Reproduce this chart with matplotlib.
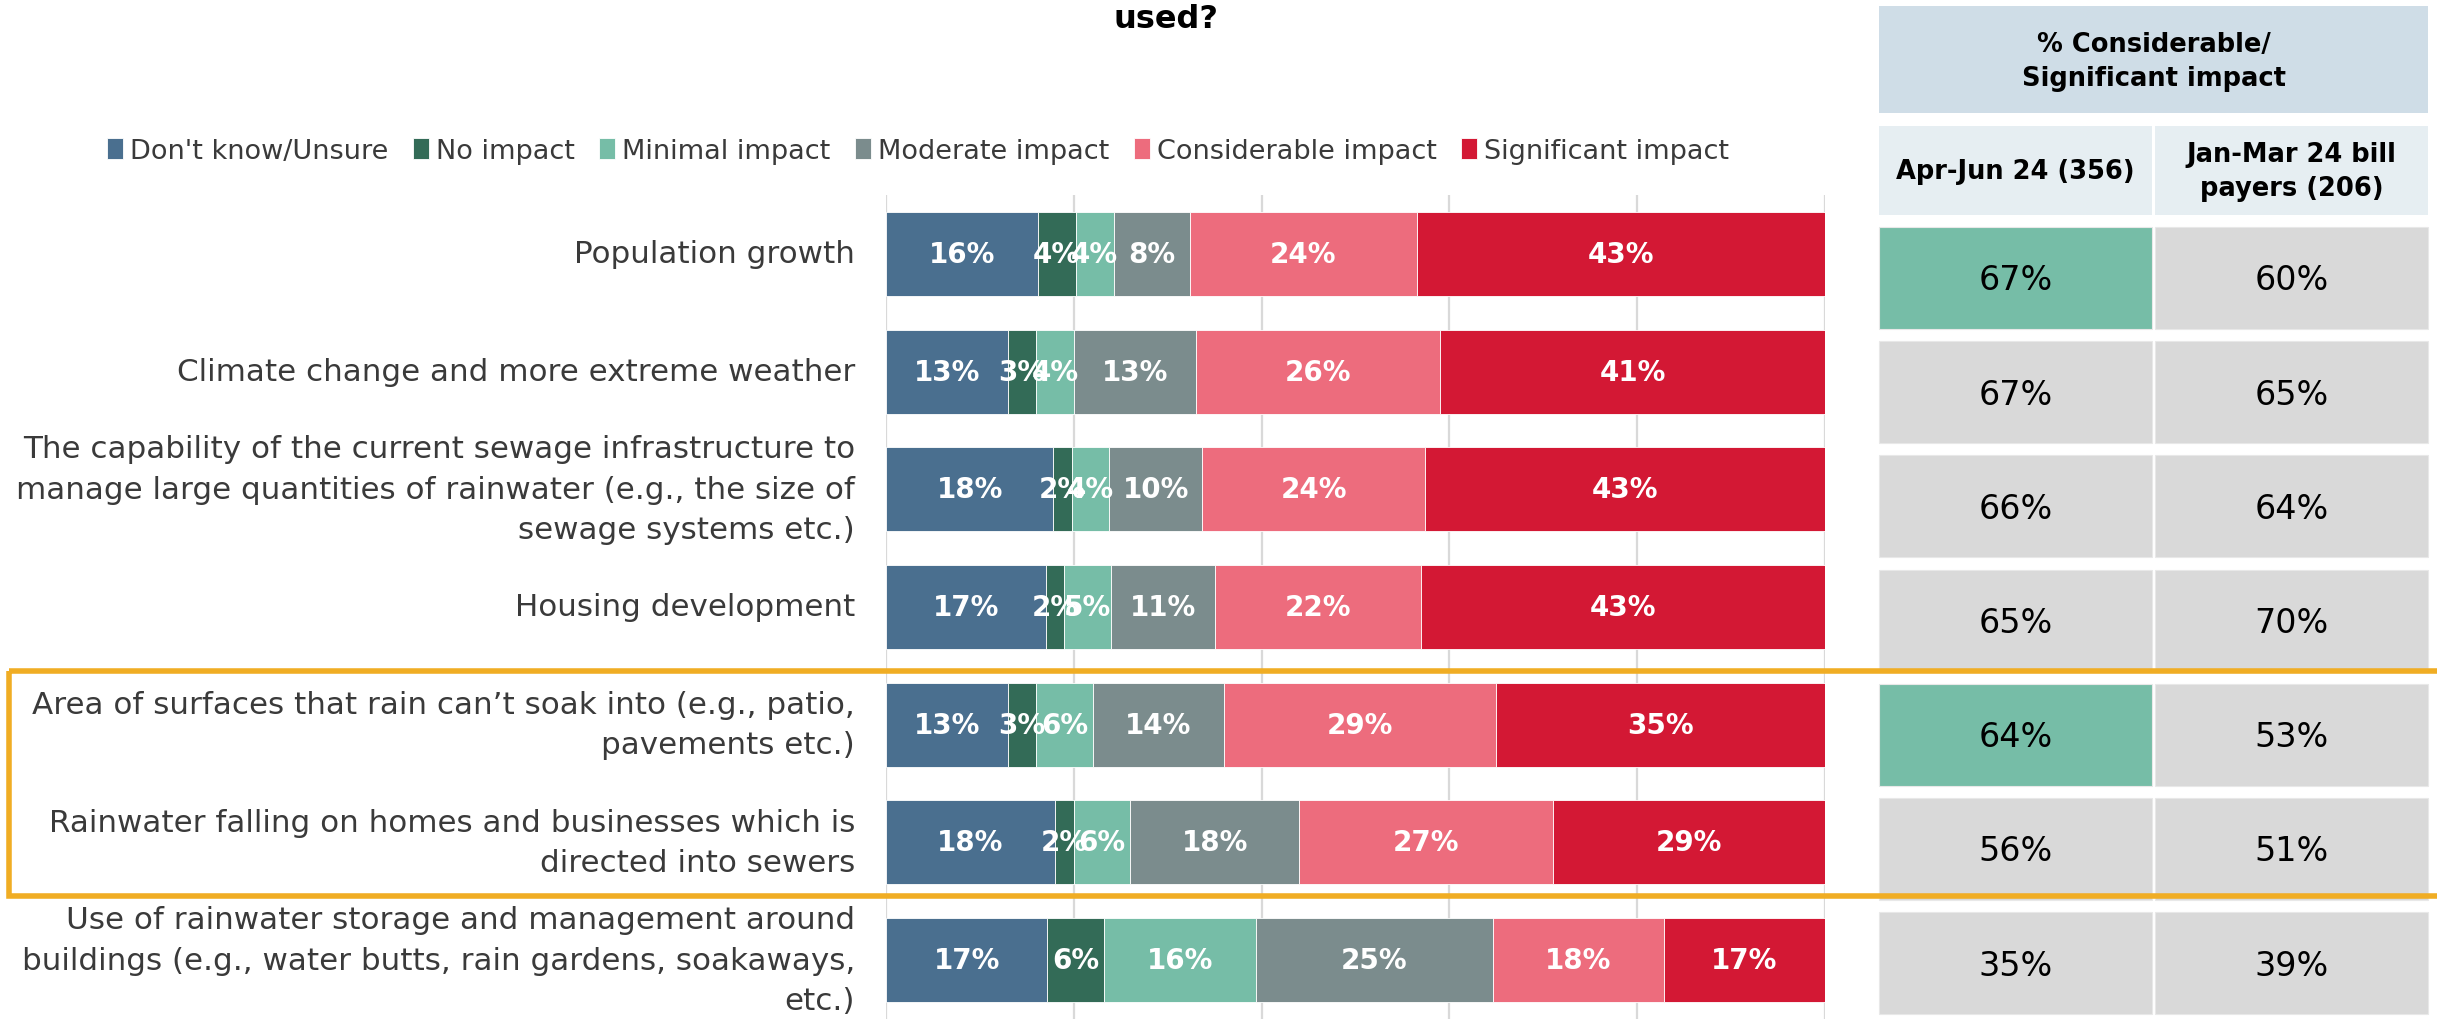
import matplotlib
matplotlib.use('Agg')
import matplotlib.pyplot as plt
from matplotlib.patches import Rectangle
import matplotlib.transforms as mtransforms
import numpy as np

# ---------------- data ----------------
categories = [
    "Population growth",
    "Climate change and more extreme weather",
    "The capability of the current sewage infrastructure to\nmanage large quantities of rainwater (e.g., the size of\nsewage systems etc.)",
    "Housing development",
    "Area of surfaces that rain can\u2019t soak into (e.g., patio,\npavements etc.)",
    "Rainwater falling on homes and businesses which is\ndirected into sewers",
    "Use of rainwater storage and management around\nbuildings (e.g., water butts, rain gardens, soakaways,\netc.)",
]
series_names = ["Don't know/Unsure", "No impact", "Minimal impact",
                "Moderate impact", "Considerable impact", "Significant impact"]
dont_know    = [16, 13, 18, 17, 13, 18, 17]
no_impact    = [4, 3, 2, 2, 3, 2, 6]
minimal      = [4, 4, 4, 5, 6, 6, 16]
moderate     = [8, 13, 10, 11, 14, 18, 25]
considerable = [24, 26, 24, 22, 29, 27, 18]
significant  = [43, 41, 43, 43, 35, 29, 17]

table_title = "% Considerable/\nSignificant impact"
table_col_headers = ["Apr-Jun 24 (356)", "Jan-Mar 24 bill\npayers (206)"]
apr_jun = [67, 67, 66, 65, 64, 56, 35]
jan_mar = [60, 65, 64, 70, 53, 51, 39]
highlight_rows = [0, 4]
title_text = "used?"

# ---------------- styles ----------------
colors = ["#4a6f8f", "#336b57", "#76bda7", "#7b8c8d", "#ed6c7d", "#d31834"]
W, H = 2437, 1020
plt.rcParams['font.family'] = ['DejaVu Sans']
txt_col = "#3a3a3a"

fig = plt.figure(figsize=(W / 100, H / 100), dpi=100)

# bar axes
ax_left, ax_right, ax_top, ax_bot = 886, 1825, 196, 1020
ax = fig.add_axes([ax_left / W, 1 - ax_bot / H, (ax_right - ax_left) / W, (ax_bot - ax_top) / H])
ax.set_xlim(0, 100)
ax.set_ylim(len(categories) - 0.5, -0.5)
ax.axis('off')
for gx in range(0, 101, 20):
    ax.axvline(gx, color="#d9d9d9", lw=1.6, zorder=0)

series = [dont_know, no_impact, minimal, moderate, considerable, significant]
data = np.array(series, dtype=float)
totals = data.sum(axis=0)
norm = data / totals * 100
y = np.arange(len(categories))
left = np.zeros(len(categories))
handles = []
for k, name in enumerate(series_names):
    b = ax.barh(y, norm[k], left=left, height=0.714, color=colors[k],
                edgecolor='white', linewidth=0.6, label=name, zorder=2)
    handles.append(b)
    for i in range(len(categories)):
        ax.text(left[i] + norm[k][i] / 2, y[i], f"{series[k][i]}%", ha='center', va='center',
                color='white', fontweight='bold', fontsize=20, zorder=3)
    left += norm[k]

# category labels
trans = mtransforms.blended_transform_factory(fig.transFigure, ax.transData)
for i, c in enumerate(categories):
    ax.text(855 / W, y[i], c, transform=trans, ha='right', va='center', multialignment='right',
            fontsize=22.3, color=txt_col, linespacing=1.5)

# legend
fig.legend(handles=handles, labels=series_names, loc='center', ncol=6, frameon=False,
           bbox_to_anchor=(918 / W, 1 - 152 / H), bbox_transform=fig.transFigure,
           fontsize=19.5, handlelength=0.6, handleheight=0.8, handletextpad=0.25,
           columnspacing=0.9, labelcolor=txt_col)

# title
fig.text(1166 / W, 1 - 28 / H, title_text, ha='center', va='baseline', fontsize=23,
         fontweight='bold', color='black')

# overlay axes in pixel coords for table and highlight box
ov = fig.add_axes([0, 0, 1, 1], zorder=5)
ov.set_xlim(0, W)
ov.set_ylim(H, 0)
ov.axis('off')
ov.patch.set_alpha(0)

tx0, tcw, tgap = 1879, 273, 3
ov.add_patch(Rectangle((tx0, 7), 2 * tcw + tgap, 107, facecolor="#cfdde7", edgecolor='none'))
ov.text(tx0 + tcw + tgap / 2, 62, table_title, ha='center', va='center', fontsize=18.5,
        fontweight='bold', color='black', linespacing=1.4)
for j, hdr in enumerate(table_col_headers):
    x0 = tx0 + j * (tcw + tgap)
    ov.add_patch(Rectangle((x0, 127), tcw, 89, facecolor="#e6eef2", edgecolor='none'))
    ov.text(x0 + tcw / 2, 172, hdr, ha='center', va='center', fontsize=18.5,
            fontweight='bold', color='black', linespacing=1.45)

row_top0, row_step, row_h = 228, 114.2, 102
for i in range(len(categories)):
    top = row_top0 + i * row_step
    for j, vals in enumerate([apr_jun, jan_mar]):
        x0 = tx0 + j * (tcw + tgap)
        fc = "#76bda7" if (j == 0 and i in highlight_rows) else "#d9d9d9"
        ov.add_patch(Rectangle((x0, top), tcw, row_h, facecolor=fc, edgecolor='#e8e8e8', lw=0.8))
        ov.text(x0 + tcw / 2, top + row_h / 2 + 2, f"{vals[i]}%", ha='center', va='center',
                fontsize=24, color='black')

# highlight box
ov.add_patch(Rectangle((9, 672), W + 20, 225, fill=False, edgecolor="#f0ad24", lw=4, clip_on=False))

fig.savefig("out.png", dpi=100)
